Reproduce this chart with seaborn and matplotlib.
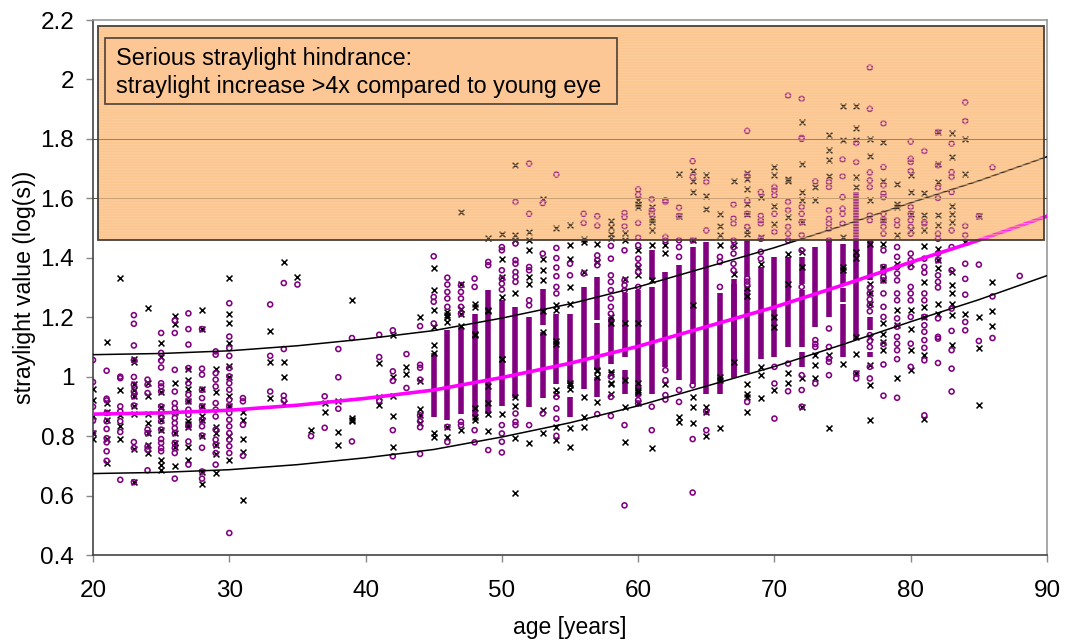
import matplotlib
matplotlib.use('Agg')
import matplotlib.pyplot as plt
import matplotlib.patches as patches
import pandas as pd
import seaborn as sns

# Lecturas de la figura: edad -> valores de straylight
circle_ages_young = [20, 21, 22, 23, 24, 25, 26, 27, 28, 29, 30, 31, 33, 34, 35, 36, 37, 38, 39, 41, 42, 43, 44]
circle_vals_young = [
    [1.056, .982, .899, .852, .81],
    [1.02, .926, .92, .878, .85, .824, .793, .779, .749, .717],
    [1.0, .995, .9, .883, .85, .814, .653],
    [1.207, 1.178, 1.105, 1.055, .999, .973, .95, .934, .903, .78, .76, .645],
    [.99, .973, .945, .822, .81, .765, .754, .685],
    [1.147, 1.08, 1.054, 1.031, .978, .967, .95, .9, .883, .866, .85, .822, .79, .777, .76, .749],
    [1.189, 1.147, 1.023, .95, .911, .894, .878, .861, .844, .827, .81, .777, .76, .743, .657],
    [1.213, 1.16, 1.108, 1.029, .978, .939, .917, .889, .872, .833, .782, .704],
    [1.16, 1.027, 1.007, .956, .928, .9, .855, .833, .802, .761, .681, .657],
    [1.085, 1.074, 1.012, .99, .967, .911, .889, .866, .822, .788, .771, .743, .704],
    [1.247, 1.135, 1.096, 1.07, 1.029, 1.001, .978, .956, .922, .9, .878, .855, .833, .81, .788, .766, .743, .474],
    [.928, .917, .838, .734],
    [1.243, 1.07, .95],
    [1.315, 1.093, .936, .92],
    [1.31],
    [.80],
    [.934, .828],
    [1.093, .998, .892],
    [1.13, .782],
    [1.141, 1.066, .919],
    [1.156, 1.018, .986, .82, .732],
    [1.076, .962],
    [1.17, 1.04, 1.03, .99, .87, .85, .83, .74],
]
cross_ages_young = [20, 21, 22, 23, 24, 25, 26, 27, 28, 29, 30, 31, 33, 34, 35, 36, 37, 38, 39, 41, 42, 43, 44]
cross_vals_young = [
    [.958, .92, .866, .81, .79],
    [1.117, .91, .88, .855, .79, .71],
    [1.333, .954, .87, .833, .79],
    [1.06, 1.05, .975, .954, .934, .9, .874, .757, .645],
    [1.23, .98, .934, .874, .844, .81, .77, .743],
    [1.113, 1.066, .95, .898, .874, .855, .822, .72, .704, .687],
    [1.203, 1.177, .98, .88, .81, .777, .765, .698],
    [1.027, .99, .958, .918, .85, .84, .83, .763, .72],
    [1.223, 1.16, .96, .9, .866, .855, .80, .68, .639],
    [1.027, .95, .83, .81, .77, .74, .675],
    [1.332, 1.21, 1.18, 1.113, 1.036, 1.0, .934, .9, .80, .72],
    [.88, .855, .79, .745, .586],
    [1.152, 1.05, .928],
    [1.385, 1.05, .999, .91],
    [1.336],
    [.82],
    [.913, .88],
    [.919, .815, .769],
    [1.259, .86, .855, .85],
    [1.046, .931, .906],
    [1.139, 1.0, .934, .869, .763],
    [1.032, 1.01],
    [1.2, .985, .89, .87, .845],
]

circle_ages_mid = list(range(45, 68))
circle_vals_mid = [
    [1.405, 1.268, 1.252, 1.179],
    [1.333, 1.31, 1.285, 1.263, 1.235, .831, .78],
    [1.308, 1.285, 1.263, 1.235, 1.212, .848, .837],
    [1.33, 1.302, .82, .779],
    [1.386, 1.375, .753],
    [1.436, 1.425, 1.358, 1.33, 1.313, 1.293, .837, .809, .781, .745],
    [1.588, 1.448, 1.392, 1.38, 1.352, 1.336, 1.319, .876, .848, .837],
    [1.717, 1.548, 1.369, 1.358, 1.257, 1.24, .837],
    [1.584, 1.414, .876],
    [1.68, 1.433, 1.399, 1.367, 1.338, 1.302, 1.28, .932, .893, .859, .801],
    [1.38, 1.341],
    [1.548, 1.517, 1.347],
    [1.54, 1.508, 1.408, 1.392, 1.375, .874],
    [1.44, 1.397, 1.341, 1.319, 1.291, 1.263, 1.235, 1.212, 1.0, .932, .868],
    [1.551, 1.537, 1.506, 1.425, 1.324, 1.308, 1.29, .837, .567],
    [1.63, 1.612, 1.517, 1.468, 1.442, 1.397, 1.375, 1.352, 1.302, .921, .91],
    [1.597, 1.56, 1.548, .899, .82],
    [1.593, 1.588, 1.47, 1.459, 1.022, .988, .938, .923],
    [1.569, 1.54, 1.459, 1.436, 1.403, .955, .915],
    [1.725, 1.672, 1.459, .971, .79, .61],
    [1.655, 1.492, .882, .82],
    [1.403, 1.386, 1.302],
    [1.579, 1.532, 1.515, 1.459, 1.436, 1.414, 1.38, 1.358],
]
cross_ages_mid = list(range(45, 68))
cross_vals_mid = [
    [1.367, 1.291, 1.224, 1.167, 1.108, 1.078, .809, .798],
    [1.218, 1.207, 1.2, 1.184, .831, .798],
    [1.554, 1.313, 1.229, 1.212, 1.17, .82],
    [1.246, 1.235, 1.145, 1.14, .893, .865, .854],
    [1.467, 1.224, 1.22, .97, .91, .876, .818],
    [1.481, 1.395, 1.336, 1.268, 1.061, 1.06, .876],
    [1.712, 1.476, 1.459, 1.28, .93, .9, .792, .61],
    [1.487, 1.459, 1.425, 1.336, 1.313, .778],
    [1.599, 1.397, 1.358, 1.324, 1.22, 1.15, .887, .809],
    [1.5, 1.24, 1.224, 1.12, 1.11, .955, .943, .831, .787],
    [1.511, 1.442, 1.397, 1.302, 1.246, .98, .971, .96, .826, .762],
    [1.464, 1.453, 1.352, .93, .865, .831],
    [1.448, 1.386, 1.022, 1.02, 1.0, .915],
    [1.523, 1.504, 1.481, 1.468, 1.2, 1.18, 1.016, 1.01, .98, .977, .943],
    [1.485, 1.459, 1.33, 1.18, .99, .899, .779],
    [1.593, 1.582, 1.571, 1.425, 1.369, 1.341, 1.179, .98, .955, .95, .91],
    [1.571, 1.532, 1.52, 1.492, 1.442, 1.324, .761],
    [1.442, 1.416, .977],
    [1.683, 1.542, .865, .848],
    [1.692, 1.657, 1.621, 1.459, 1.24, .932, .899, .843],
    [1.677, 1.607, 1.565, .899, .882, .8],
    [1.548, 1.506, 1.476, 1.444, 1.0, .99, .826],
    [1.66, 1.442, 1.347, 1.05],
]

circle_ages_old = [68, 69, 70, 71, 72, 73, 74, 75, 76, 77, 78, 79, 80, 81, 82, 83, 84, 85, 86, 88]
circle_vals_old = [
    [1.827, 1.677, 1.593, 1.548, 1.504, 1.33, 1.32, 1.31, .915],
    [1.621, 1.541, 1.526, 1.515, 1.464, 1.42, 1.397],
    [1.638, 1.627, 1.61, 1.548, 1.487, 1.033, .977, .859],
    [1.946, 1.588, 1.56, 1.504, 1.481, 1.459, 1.044, .951],
    [1.935, 1.804, 1.8, 1.571, 1.548, 1.52, 1.476, 1.425, 1.302, 1.005, .955, .899],
    [1.657, 1.123, 1.11, 1.1, .977],
    [1.655, 1.638, 1.56, 1.531, 1.515, 1.498, 1.459, 1.162, 1.1, 1.061, 1.05, 1.005],
    [1.731, 1.674, 1.604, 1.565, 1.548, 1.515],
    [1.786, 1.722, 1.011, .994],
    [2.04, 1.901, 1.687, 1.66, 1.638, 1.543, 1.526, 1.3, 1.28, 1.26, 1.24, 1.22, 1.14, 1.12, 1.1, 1.033, .994],
    [1.852, 1.705, 1.644, 1.616, 1.604, 1.548, 1.526, 1.504, 1.481, 1.425, 1.369, 1.352, 1.336, 1.324, 1.28, 1.235, 1.201, 1.11, 1.041, .936],
    [1.526, 1.509, 1.436, 1.403, 1.369, 1.347, 1.324, 1.28, 1.257, 1.196, 1.168, 1.134, 1.111, 1.089, 1.059, .929],
    [1.791, 1.733, 1.722, 1.692, 1.571, 1.548, 1.526, 1.504, 1.481, 1.414, 1.392, 1.369, 1.302, 1.28, 1.257, 1.201, 1.111, 1.033],
    [1.759, 1.52, 1.515, 1.397, 1.369, 1.35, 1.28, 1.257, 1.201, 1.173, 1.151, 1.123, 1.097, 1.055, .87],
    [1.823, 1.711, 1.636, 1.601, 1.481, 1.464, 1.414, 1.392, 1.341, 1.319, 1.3, 1.196, 1.134, 1.128, 1.046],
    [1.784, 1.688, 1.672, 1.621, 1.492, 1.436, 1.358, 1.229, 1.154, 1.089, 1.027, .95],
    [1.923, 1.86, 1.507, 1.476, 1.38, 1.329, 1.276, 1.184, 1.156],
    [1.54, 1.377, 1.12],
    [1.704, 1.27, 1.13],
    [1.339],
]
cross_ages_old = [68, 69, 70, 71, 72, 73, 74, 75, 76, 77, 78, 79, 80, 81, 82, 83, 84, 85, 86]
cross_vals_old = [
    [1.685, 1.666, 1.63, 1.582, 1.548, 1.492, 1.481, 1.3, 1.27, .977, .943, .932, .88],
    [1.604, 1.47, 1.38, 1.033, 1.005, .927],
    [1.705, 1.677, 1.573, 1.515, 1.201, 1.167, .955],
    [1.664, 1.66, 1.537, 1.414, 1.313, 1.013, .979],
    [1.858, 1.717, 1.621, 1.593, 1.52, 1.42, 1.37, .994, .899],
    [1.638, 1.596, 1.072, 1.039, .996],
    [1.814, 1.761, 1.728, 1.674, 1.072, .826],
    [1.912, 1.797, 1.47, 1.37, 1.36, 1.044],
    [1.912, 1.836, 1.797, 1.672, 1.638, 1.42, 1.4, 1.134, 1.076, 1.013],
    [1.799, 1.744, 1.593, 1.448, 1.313, 1.28, 1.246, 1.134, 1.039, .971, .854],
    [1.789, 1.66, 1.526, 1.448, 1.369, 1.324, 1.179, 1.145, 1.117, 1.089],
    [1.647, 1.582, 1.571, 1.476, 1.38, 1.224, 1.173, .996],
    [1.677, 1.621, 1.548, 1.492, 1.38, 1.224, 1.162, 1.089, 1.022],
    [1.618, 1.543, 1.492, 1.44, 1.32, 1.235, 1.201, 1.072, .859],
    [1.823, 1.717, 1.655, 1.543, 1.509, 1.431, 1.392, 1.364, 1.246, 1.212],
    [1.82, 1.739, 1.573, 1.548, 1.52, 1.352, 1.308, 1.28, 1.246, 1.207, 1.106],
    [1.801, 1.683, 1.453, 1.212],
    [1.54, 1.201, 1.095, .904],
    [1.32, 1.22, 1.17],
]

# Tramos donde los circulos se funden en una columna solida
run_ages = [45, 46, 47, 48, 49, 50, 51, 52, 53, 53, 54, 55, 55, 56, 57, 57, 57, 58, 59, 59, 60, 61, 61,
            62, 63, 64, 65, 66, 67, 67, 68, 68, 69, 70, 71, 72, 72, 72, 73, 74, 75, 75, 75, 76, 77, 77, 77]
run_highs = [1.078, 1.156, 1.167, 1.212, 1.29, 1.257, 1.235, 1.201, 1.296, 1.151, 1.212, 1.212, .932, 1.302,
             1.336, 1.179, .999, 1.201, 1.28, 1.022, 1.291, 1.425, 1.302, 1.352, 1.375, 1.436, 1.453, 1.28,
             1.33, 1.313, 1.459, 1.302, 1.369, 1.403, 1.403, 1.403, 1.291, 1.083, 1.436, 1.459, 1.448, 1.3, 1.246,
             1.621, 1.459, 1.201, 1.083]
run_lows = [.865, .854, .876, .865, .876, .9, .927, .899, 1.173, .927, .977, .977, .865, .96, 1.19, 1.022, .932,
            1.044, 1.067, .943, .932, 1.324, .943, 1.033, .988, .977, .943, .943, 1.0, .994, 1.336, 1.011, 1.061,
            1.067, 1.1, 1.313, 1.1, 1.033, 1.167, 1.201, 1.313, 1.25, 1.067, 1.123, 1.324, 1.156, 1.067]

curve_ages = [20, 25, 30, 35, 40, 45, 50, 55, 60, 65, 70, 75, 80, 85, 90]
curve_mean = [.874, .878, .887, .904, .927, .955, .997, 1.045, 1.102, 1.168, 1.234, 1.308, 1.385, 1.459, 1.54]
curve_upper = [1.074, 1.078, 1.087, 1.104, 1.127, 1.155, 1.197, 1.245, 1.302, 1.368, 1.434, 1.508, 1.585, 1.659, 1.74]
curve_lower = [.674, .678, .687, .704, .727, .755, .797, .845, .902, .968, 1.034, 1.108, 1.185, 1.259, 1.34]

grid_levels = [1.6, 1.8]
y_ticks = [.4, .6, .8, 1, 1.2, 1.4, 1.6, 1.8, 2, 2.2]
y_labels = ['0.4', '0.6', '0.8', '1', '1.2', '1.4', '1.6', '1.8', '2', '2.2']
x_ticks = [20, 30, 40, 50, 60, 70, 80, 90]

PURPLE = '#800080'


def aplanar(edades, valores):
    filas = []
    for edad, vals in zip(edades, valores):
        for v in vals:
            filas.append((edad, v))
    return pd.DataFrame(filas, columns=['age', 'value'])


def main():
    sns.set_style('white')
    plt.rcParams['font.family'] = ['Liberation Sans', 'DejaVu Sans']

    fig = plt.figure(figsize=(10.65, 6.41), dpi=100)
    ax = fig.add_axes([93 / 1065, 86 / 641, 954 / 1065, 535 / 641])

    circulos = pd.concat([aplanar(circle_ages_young, circle_vals_young),
                          aplanar(circle_ages_mid, circle_vals_mid),
                          aplanar(circle_ages_old, circle_vals_old)])
    cruces = pd.concat([aplanar(cross_ages_young, cross_vals_young),
                        aplanar(cross_ages_mid, cross_vals_mid),
                        aplanar(cross_ages_old, cross_vals_old)])

    # Zona naranja: base bajo los datos y velo fino encima
    ax.add_patch(patches.Rectangle((20.36, 1.459), 69.42, 0.72, facecolor='#fdcd9c',
                                   edgecolor='none', zorder=1))

    ax.vlines(run_ages, run_lows, run_highs, color=PURPLE, linewidth=4.0, zorder=2)
    sns.scatterplot(data=cruces, x='age', y='value', marker='x', s=18, color='black',
                    linewidth=1.1, ax=ax, zorder=3)
    sns.scatterplot(data=circulos, x='age', y='value', marker='o', s=13, facecolor='none',
                    edgecolor=PURPLE, linewidth=1.15, ax=ax, zorder=4)

    sns.lineplot(x=curve_ages, y=curve_upper, color='black', linewidth=1.1, ax=ax, zorder=5)
    sns.lineplot(x=curve_ages, y=curve_lower, color='black', linewidth=1.1, ax=ax, zorder=5)
    sns.lineplot(x=curve_ages, y=curve_mean, color='#ff00ff', linewidth=2.6, ax=ax, zorder=5)

    for nivel in grid_levels:
        ax.axhline(nivel, color='#5e4e3a', linewidth=0.7, zorder=6)

    ax.add_patch(patches.Rectangle((20.36, 1.459), 69.42, 0.72, facecolor='#ffcc99', alpha=0.22,
                                   edgecolor='none', zorder=7))
    ax.add_patch(patches.Rectangle((20.36, 1.459), 69.42, 0.72, facecolor='none', edgecolor='#fac289',
                                   hatch='-' * 6, linewidth=0, zorder=7, alpha=0.6))
    ax.add_patch(patches.Rectangle((20.36, 1.459), 69.42, 0.72, facecolor='none', edgecolor='#4a4036',
                                   linewidth=1.3, zorder=8))
    ax.add_patch(patches.Rectangle((20.88, 1.916), 37.56, 0.225, facecolor='#fcc794', edgecolor='#5a4c3c',
                                   linewidth=1.3, zorder=9))
    ax.text(21.68, 2.024, 'Serious straylight hindrance:\nstraylight increase >4x compared to young eye',
            fontsize=16.8, va='center', ha='left', color='black', linespacing=1.26, zorder=10)

    ax.set_xlim(20, 90)
    ax.set_ylim(0.4, 2.2)
    ax.set_xticks(x_ticks)
    ax.set_yticks(y_ticks)
    ax.set_yticklabels(y_labels)
    ax.tick_params(axis='both', which='major', length=5, width=1, color='#888888',
                   labelsize=17.5, labelcolor='black', left=True, bottom=True)
    ax.tick_params(axis='x', pad=13)
    ax.tick_params(axis='y', pad=8.5)
    ax.set_xlabel('age [years]', fontsize=16.5, va='center', color='black')
    ax.set_ylabel('straylight value (log(s))', fontsize=16.7, va='center', color='black')
    ax.xaxis.set_label_coords(0.5, -0.1346)
    ax.yaxis.set_label_coords(-0.0723, 0.50)

    for lado in ['left', 'bottom']:
        ax.spines[lado].set_color('#444444')
        ax.spines[lado].set_linewidth(1.2)
    for lado in ['top', 'right']:
        ax.spines[lado].set_color('#999999')
        ax.spines[lado].set_linewidth(1.2)

    fig.savefig('out.png', dpi=100)


if __name__ == '__main__':
    main()
